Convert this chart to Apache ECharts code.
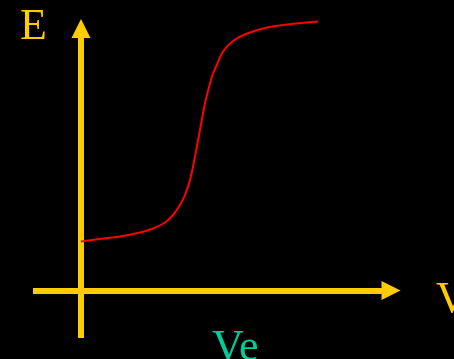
<!DOCTYPE html>
<html>
<head>
<meta charset="utf-8">
<script src="https://cdn.jsdelivr.net/npm/echarts@6/dist/echarts.min.js"></script>
<style>
  html, body { margin: 0; padding: 0; background: #000; }
  #main { width: 454px; height: 359px; }
</style>
</head>
<body>
<div id="main"></div>
<script>
  // titration curve: volume added vs potential (arbitrary units, origin at axes crossing)
  var volume = [0, 19, 39, 59, 72, 84, 92, 99, 104, 109, 114, 119, 124, 131, 136, 142, 152, 166, 186, 206, 237];
  var potential = [49, 51.5, 54, 58, 62, 68, 75.5, 85.5, 95.5, 110.5, 134, 160.5, 187, 214, 226, 239, 249.5, 257, 263, 266, 269];

  var axisColor = '#FFCC00';
  var curveColor = '#FF0000';

  var points = [];
  for (var i = 0; i < volume.length; i++) {
    points.push([volume[i], potential[i]]);
  }

  var chart = echarts.init(document.getElementById('main'));

  chart.setOption({
    backgroundColor: '#000',
    animation: false,
    grid: { left: 33, right: 63, top: 28.5, bottom: 21 },
    xAxis: {
      type: 'value',
      min: -48,
      max: 310,
      axisLine: {
        onZero: true,
        symbol: ['none', 'triangle'],
        symbolSize: [19, 19],
        lineStyle: { color: axisColor, width: 6, cap: 'butt' }
      },
      axisTick: { show: false },
      axisLabel: { show: false },
      splitLine: { show: false }
    },
    yAxis: {
      type: 'value',
      min: -47.5,
      max: 262,
      axisLine: {
        onZero: true,
        symbol: ['none', 'triangle'],
        symbolSize: [19, 19],
        lineStyle: { color: axisColor, width: 6, cap: 'butt' }
      },
      axisTick: { show: false },
      axisLabel: { show: false },
      splitLine: { show: false }
    },
    graphic: [
      {
        type: 'text', left: 20, top: 5,
        style: { text: 'E', font: '44px "Liberation Serif"', fill: axisColor }
      },
      {
        type: 'text', left: 436, top: 278,
        style: { text: 'V', font: '44px "Liberation Serif"', fill: axisColor }
      },
      {
        type: 'text', left: 212, top: 326,
        style: { text: 'Ve', font: '44px "Liberation Serif"', fill: '#00CC99' }
      }
    ],
    series: [{
      type: 'line',
      data: points,
      smooth: 0.4,
      showSymbol: false,
      clip: false,
      lineStyle: { color: curveColor, width: 2 }
    }]
  });
</script>
</body>
</html>
